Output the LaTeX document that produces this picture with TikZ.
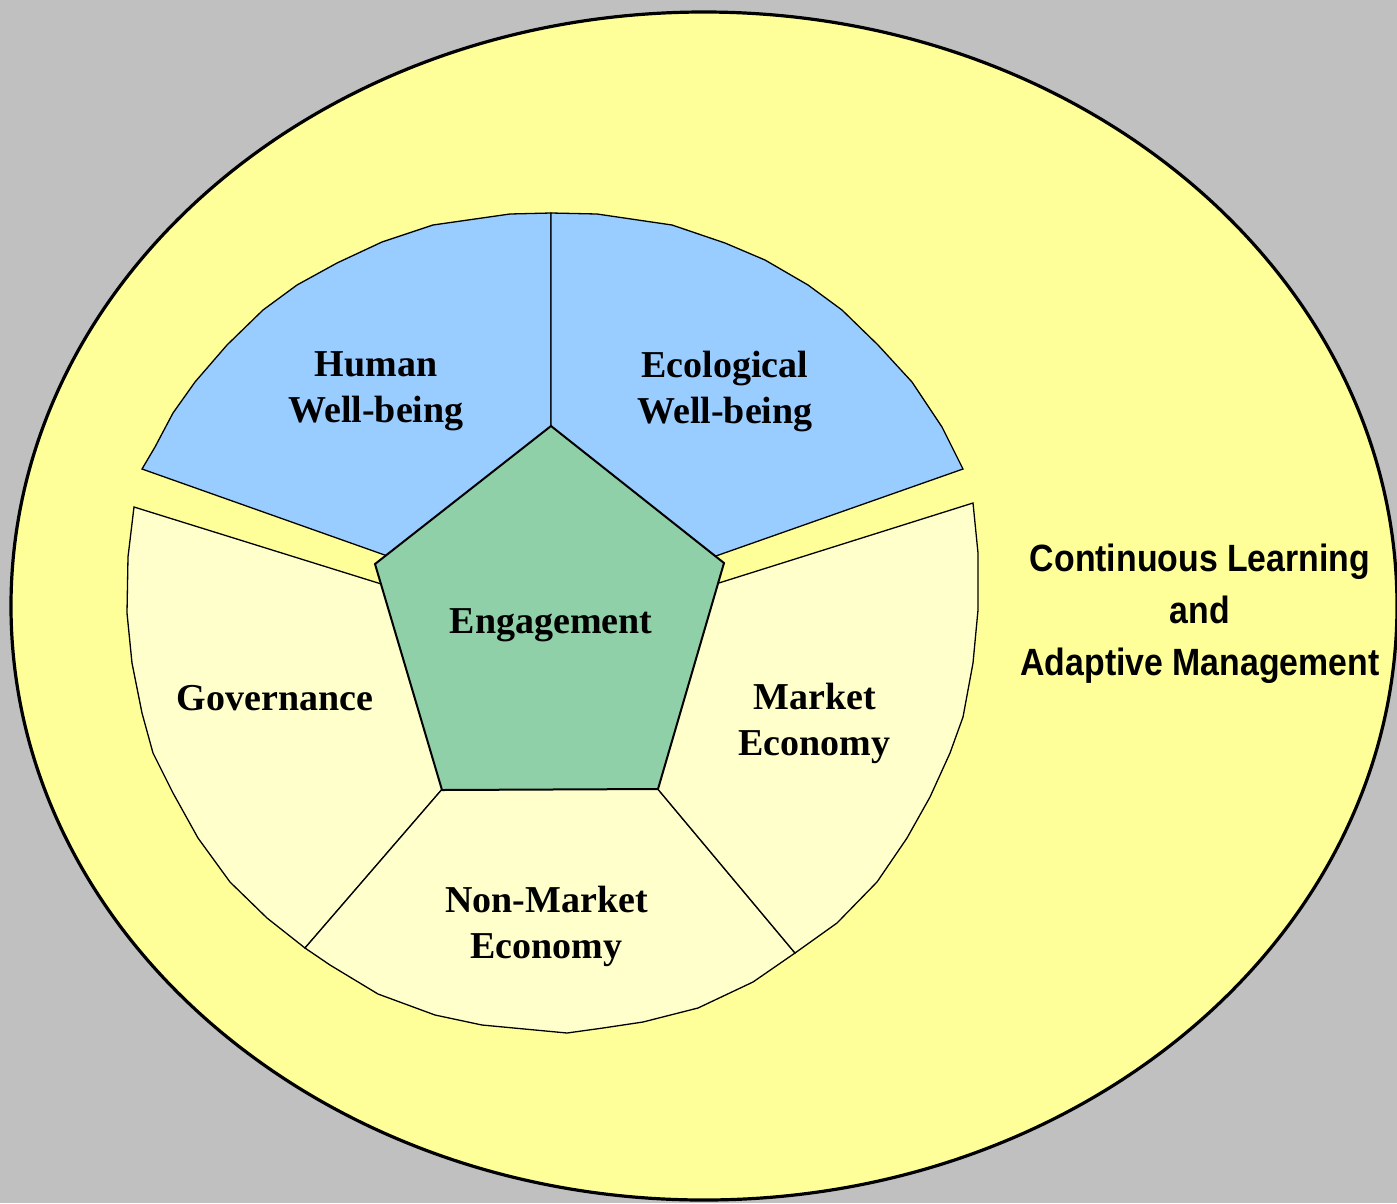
\documentclass[tikz,border=0pt]{standalone}
\usepackage{fontspec}
\usepackage{tikz}
\setmainfont{Liberation Serif}
\newfontfamily\learnfont[FakeStretch=0.89]{Liberation Sans}

\definecolor{backgrey}{RGB}{192,192,192}
\definecolor{outeryellow}{RGB}{255,255,153}
\definecolor{wellblue}{RGB}{153,204,255}
\definecolor{paleyellow}{RGB}{255,255,204}
\definecolor{engagegreen}{RGB}{143,208,168}

\begin{document}
\begin{tikzpicture}[x=1pt, y=-1pt,
		wedge/.style={draw=black, line width=1.3pt, line join=miter},
		segtext/.style={font=\bfseries\fontsize{38}{46}\selectfont, align=center, inner sep=0pt},
		learntext/.style={font=\learnfont\bfseries\fontsize{38}{52}\selectfont, align=center, inner sep=0pt}]
			\useasboundingbox[fill=backgrey] (0,0) rectangle (1397,1203);
			\draw[line width=3.2pt, fill=outeryellow] (704,606) ellipse [x radius=693pt, y radius=594pt];

			\draw[wedge, fill=wellblue] (551,213) -- (510,214) -- (433,225) -- (382,242) -- (337,263) -- (297,285) -- (263,310) -- (227,345) -- (195,382) -- (173,413) -- (155,447) -- (142,469) -- (458,581) -- (551,581) -- cycle;
			\draw[wedge, fill=wellblue] (551,213) -- (597,214) -- (672,225) -- (725,243) -- (765,260) -- (808,285) -- (842,310) -- (878,345) -- (912,382) -- (942,427) -- (963,469) -- (642,582) -- (551,582) -- cycle;
			\draw[wedge, fill=paleyellow] (134,507) -- (452,606) -- (500,690) -- (469,758) -- (305,948) -- (267,918) -- (230,882) -- (198,838) -- (173,793) -- (153,753) -- (142,713) -- (132,663) -- (127,613) -- (128,557) -- cycle;
			\draw[wedge, fill=paleyellow] (305,948) -- (469,758) -- (631,757) -- (795,953) -- (753,982) -- (698,1008) -- (643,1022) -- (603,1028) -- (567,1033) -- (482,1025) -- (435,1015) -- (378,994) -- (330,965) -- cycle;
			\draw[wedge, fill=paleyellow] (973,503) -- (668,599) -- (600,690) -- (631,757) -- (795,953) -- (837,923) -- (877,882) -- (907,838) -- (930,797) -- (950,753) -- (963,717) -- (973,663) -- (978,610) -- (978,553) -- cycle;

			\draw[line width=2pt, fill=engagegreen] (551,426) -- (724,563) -- (658,789) -- (442,790) -- (375,564) -- cycle;

			\node[segtext] (human) at (376,391.5) {Human\\Well-being};
			\node[segtext] (ecological) at (725,391.5) {Ecological\\Well-being};
			\node[segtext, anchor=base] (engagement) at (551,633.3) {Engagement};
			\node[segtext, anchor=base] (governance) at (275,710) {Governance};
			\node[segtext] (market) at (814.5,723) {Market\\Economy};
			\node[segtext] (nonmarket) at (546.5,926) {Non-Market\\Economy};
			\node[learntext] (learning) at (1200,613.5) {Continuous Learning\\and\\Adaptive Management};
		\end{tikzpicture}
\end{document}
